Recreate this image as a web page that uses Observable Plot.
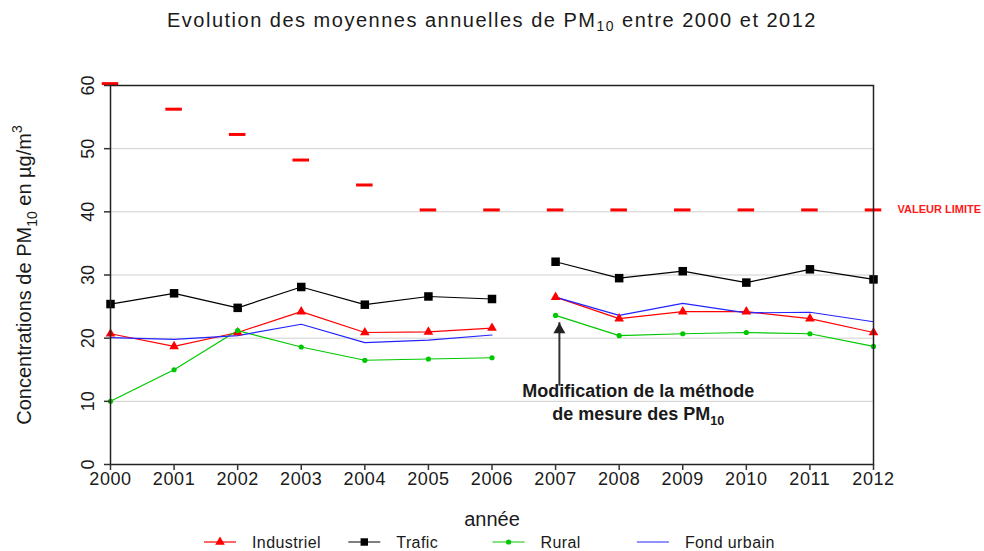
<!DOCTYPE html>
<html><head><meta charset="utf-8">
<script src="https://cdn.jsdelivr.net/npm/d3@7"></script>
<script src="https://cdn.jsdelivr.net/npm/@observablehq/plot@0.6"></script>
<style>
body{margin:0;background:#fff;font-family:"Liberation Sans",Arial,sans-serif;width:984px;height:551px;overflow:hidden}
#title{height:40px;line-height:40px;text-align:center;font-size:20px;letter-spacing:1.5px;color:#1a1a1a;white-space:nowrap}
#title sub{font-size:70%;vertical-align:-0.3em;line-height:0}
#chart svg{display:block}
#legend{height:21px}
#legend svg{display:block}
</style></head><body>
<div id="title">Evolution des moyennes annuelles de PM<sub>10</sub> entre 2000 et 2012</div>
<div id="chart"></div>
<div id="legend"></div>
<script>
// ---- data ----
const years = [2000,2001,2002,2003,2004,2005,2006,2007,2008,2009,2010,2011,2012];
const limitValues = [60.3,56.25,52.25,48.2,44.25,40.3,40.3,40.3,40.3,40.3,40.3,40.3,40.3];
const industriel = [20.7,18.7,20.9,24.2,20.9,21.0,21.6,26.5,23.1,24.2,24.2,23.1,20.9];
const trafic     = [25.4,27.1,24.8,28.1,25.3,26.6,26.2,32.1,29.5,30.6,28.8,30.9,29.3];
const rural      = [10.0,15.0,21.2,18.6,16.5,16.7,16.9,23.6,20.4,20.7,20.9,20.7,18.7];
const fondUrbain = [20.1,19.8,20.4,22.2,19.3,19.7,20.5,26.5,23.6,25.5,24.0,24.1,22.6];
const seriesNames   = ["Industriel","Trafic","Rural","Fond urbain"];
const seriesValues  = [industriel, trafic, rural, fondUrbain];
const seriesColors  = ["#ff0000","#000000","#00c800","#2424ff"];
const seriesSymbols = ["triangle","square","circle",null];
const seriesRadius  = [3.6,4.8,2.6,0];
const yTicks = [0,10,20,30,40,50,60];
const gridValues = [10,20,30,40,50];
const methodChangeYear = 2007;
const limitLabel = "VALEUR LIMITE";
const arrowAnnot = {x: 2007.06, tail: 13.35, tip: 22.45};
const annotLines = [
  {x: 2008.3, y: 11.55, text: "Modification de la méthode"},
  {x: 2008.3, y: 8.0,  text: "de mesure des PM10"}
];
const yLabel = "Concentrations de PM10 en µg/m3";
const xLabel = "année";

// ---- tables ----
const limitRows = years.map((year, i) => ({year, value: limitValues[i]}));
const rows = seriesNames.flatMap((name, s) =>
  years.map((year, i) => ({series: name, idx: s, year, value: seriesValues[s][i],
    period: year < methodChangeYear ? "avant" : "apres"})));

const lineMarks = seriesNames.map((name, s) =>
  Plot.line(rows.filter(d => d.idx === s), {x: "year", y: "value", z: "period",
    stroke: seriesColors[s], strokeWidth: 1.2}));
const dotMarks = seriesNames.map((name, s) => seriesSymbols[s] ?
  Plot.dot(rows.filter(d => d.idx === s), {x: "year", y: "value", symbol: seriesSymbols[s],
    r: seriesRadius[s], fill: seriesColors[s], stroke: "none"}) : null).filter(Boolean);

const svg = Plot.plot({
  width: 984, height: 490,
  marginLeft: 110, marginRight: 111, marginTop: 45, marginBottom: 66,
  x: {domain: [2000, 2012]},
  y: {domain: [0, 60]},
  style: {fontFamily: '"Liberation Sans", Arial, sans-serif', color: "#1a1a1a", background: "white", overflow: "visible"},
  marks: [
    Plot.gridY(gridValues, {stroke: "#cfcfcf", strokeOpacity: 1, strokeWidth: 1}),
    Plot.ruleY(limitRows, {y: "value", x1: d => d.year - 0.13, x2: d => d.year + 0.13, stroke: "#ff0000", strokeWidth: 3}),
    Plot.text([{x: years[years.length-1], y: limitValues[limitValues.length-1], t: limitLabel}],
      {x: "x", y: "y", text: "t", dx: 24, textAnchor: "start", fill: "#ff1a1a", fontWeight: "bold", fontSize: 11, ariaLabel: "limit-label"}),
    ...lineMarks,
    ...dotMarks,
    Plot.frame({stroke: "#222", strokeWidth: 1.5}),
    Plot.axisX({ticks: years, tickSize: 6, tickPadding: 2, tickFormat: d => String(d), fontSize: 18, stroke: "#333", strokeWidth: 1.5, label: null}),
    Plot.axisY({ticks: yTicks, tickSize: 6, tickFormat: () => "", stroke: "#333", strokeWidth: 1.5, label: null}),
    Plot.text(yTicks, {y: d => d, text: d => String(d), frameAnchor: "left", textAnchor: "middle", dx: -22, rotate: -90, fontSize: 18, lineAnchor: "middle"}),
    Plot.text([yLabel], {text: d => d, frameAnchor: "left", textAnchor: "middle", dx: -86, rotate: -90, fontSize: 20, lineAnchor: "middle", ariaLabel: "y-label"}),
    Plot.text([xLabel], {text: d => d, frameAnchor: "bottom", dy: 55, fontSize: 20, lineAnchor: "middle", ariaLabel: "x-label"}),
    Plot.ruleX([arrowAnnot], {x: "x", y1: "tail", y2: "tip", stroke: "#333", strokeWidth: 2, insetTop: 6}),
    Plot.dot([arrowAnnot], {x: "x", y: "tip", symbol: "triangle", r: 4.45, fill: "#222", stroke: "none", dy: 7}),
    Plot.text(annotLines, {x: "x", y: "y", text: "text", fontWeight: "bold", fontSize: 18, fill: "#1a1a1a", lineAnchor: "middle", ariaLabel: "annotation"})
  ]
});
document.getElementById("chart").appendChild(svg);

// letter spacing tweaks
d3.select(svg).selectAll('g[aria-label="x-axis tick label"] text').style("letter-spacing", "0.6px");
d3.select(svg).selectAll('g[aria-label="annotation"] text').style("letter-spacing", "1.3px");
d3.select(svg).selectAll('g[aria-label="x-label"] text').style("letter-spacing", "1.5px");

// sub/superscripts
function rich(el, parts, size) {
  const sel = d3.select(el);
  sel.text("");
  let shift = 0;
  for (const [txt, kind] of parts) {
    const ts = sel.append("tspan").text(txt);
    let target = kind === "sub" ? 0.3 * size : kind === "sup" ? -0.45 * size : 0;
    if (target !== shift) { ts.attr("dy", target - shift); shift = target; }
    if (kind) ts.attr("font-size", 0.7 * size);
  }
}
d3.select(svg).selectAll("text").each(function() {
  const t = this.textContent;
  if (t === yLabel) rich(this, [["Concentrations de PM"], ["10", "sub"], [" en µg/m"], ["3", "sup"]], 20);
  else if (t === "de mesure des PM10") rich(this, [["de mesure des PM"], ["10", "sub"]], 18);
});

// legend
const lsvg = d3.select("#legend").append("svg").attr("width", 984).attr("height", 21)
  .style("font-family", '"Liberation Sans", Arial, sans-serif');
const legendStart = 204, legendStep = 144.3, cy = 12;
seriesNames.forEach((name, s) => {
  const x0 = legendStart + s * legendStep;
  const g = lsvg.append("g");
  g.append("line").attr("x1", x0).attr("x2", x0 + 32).attr("y1", cy).attr("y2", cy)
    .attr("stroke", seriesColors[s]).attr("stroke-width", 1.2);
  if (seriesSymbols[s]) {
    const sym = {triangle: d3.symbolTriangle, square: d3.symbolSquare, circle: d3.symbolCircle}[seriesSymbols[s]];
    const r = s === 1 ? 4.2 : seriesRadius[s];
    g.append("path").attr("d", d3.symbol(sym, Math.PI * r * r)()).attr("transform", `translate(${x0 + 16},${cy})`)
      .attr("fill", seriesColors[s]);
  }
  g.append("text").attr("x", x0 + 48).attr("y", cy).attr("dy", "0.35em").attr("font-size", 16)
    .style("letter-spacing", "0.4px").attr("fill", "#1a1a1a").text(name);
});
</script>
</body></html>
